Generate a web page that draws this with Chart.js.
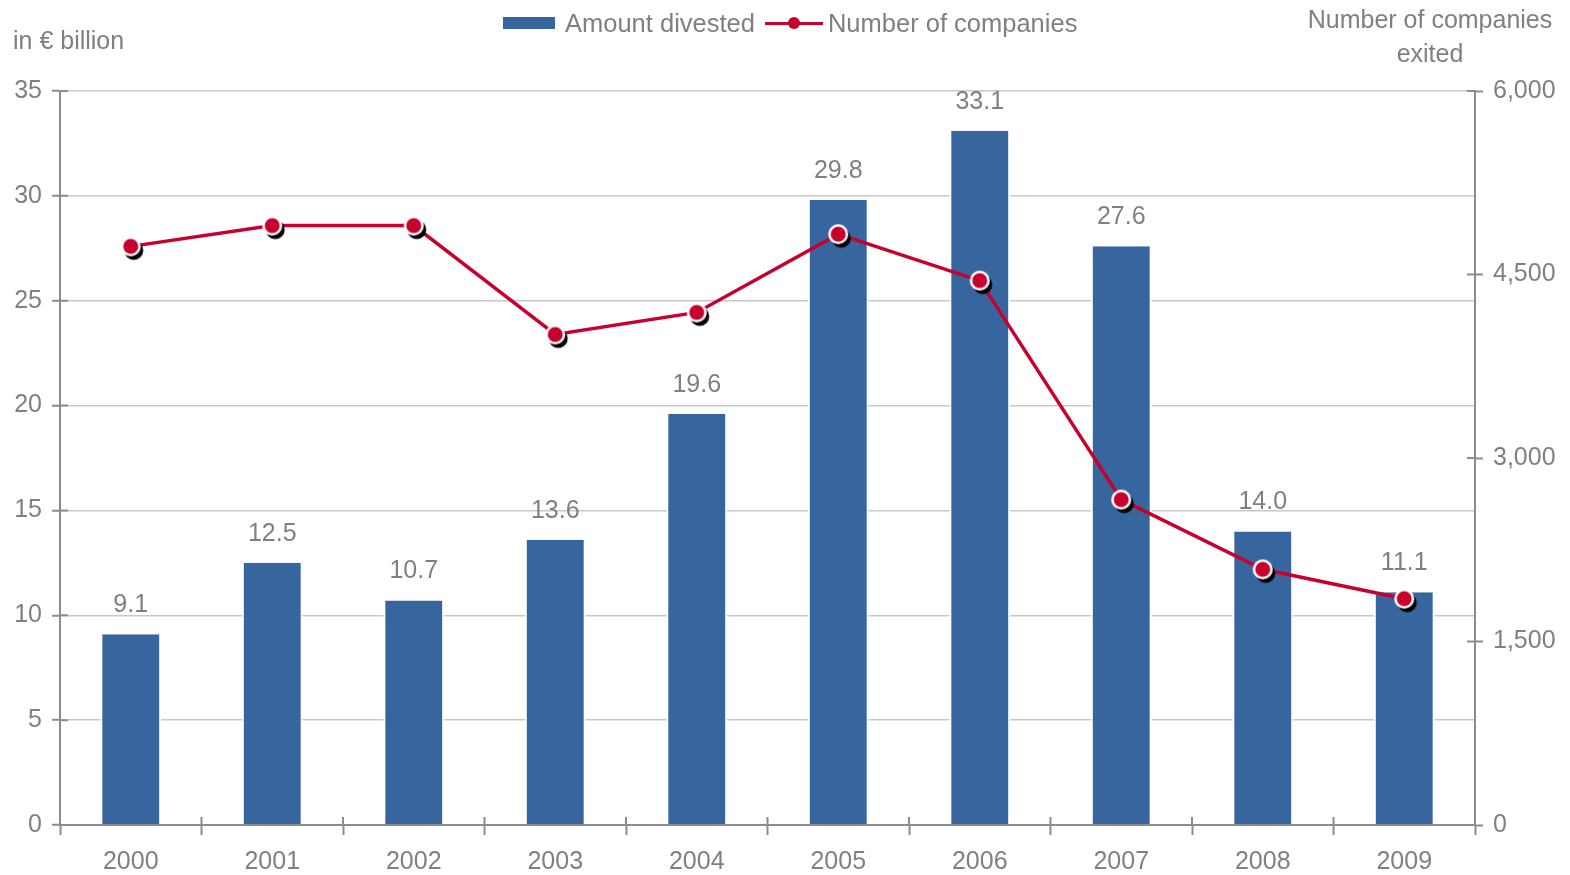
<!DOCTYPE html>
<html>
<head>
<meta charset="utf-8">
<script src="https://cdn.jsdelivr.net/npm/chart.js@4/dist/chart.umd.min.js"></script>
<style>
  html, body { margin: 0; padding: 0; background: #fff; }
  body { width: 1570px; height: 875px; position: relative; overflow: hidden;
         font-family: 'Liberation Sans', Arial, sans-serif; color: #808080; }
  #wrap { position: absolute; left: 0; top: 0; width: 1570px; height: 875px; }
  .txt { position: absolute; font-size: 25px; line-height: 30px; white-space: nowrap; }
  #unitLeft { left: 13px; top: 25px; }
  #unitRight { left: 1280px; top: 2px; width: 300px; text-align: center; line-height: 34px; }
  #legend { position: absolute; left: 503px; top: 8px; height: 30px; display: flex; align-items: center; font-size: 25.5px; }
  .swatchBar { width: 52px; height: 12px; background: #37659E; margin-right: 10px; }
  .swatchLine { position: relative; width: 58px; height: 12px; margin: 0 5px 0 10px; }
  .swatchLine .ln { position: absolute; left: 0; right: 0; top: 5px; height: 3px; background: #C8002D; }
  .swatchLine .dt { position: absolute; left: 23px; top: 0; width: 12px; height: 12px; border-radius: 50%; background: #C8002D; }
</style>
</head>
<body>
<div id="wrap"><canvas id="chart" width="1570" height="875"></canvas></div>
<div class="txt" id="unitLeft">in € billion</div>
<div class="txt" id="unitRight">Number of companies<br>exited</div>
<div id="legend">
  <div class="swatchBar"></div><span>Amount divested</span>
  <div class="swatchLine"><div class="ln"></div><div class="dt"></div></div><span>Number of companies</span>
</div>
<script>
// data
const years = ['2000', '2001', '2002', '2003', '2004', '2005', '2006', '2007', '2008', '2009'];
const amountDivested = [9.1, 12.5, 10.7, 13.6, 19.6, 29.8, 33.1, 27.6, 14.0, 11.1];
const companiesExited = [4730, 4900, 4900, 4010, 4190, 4830, 4450, 2660, 2090, 1850];
const leftTicks = [0, 5, 10, 15, 20, 25, 30, 35];
const rightTicks = [0, 1500, 3000, 4500, 6000];

const BLUE = '#37659E';
const RED = '#C8002D';
const GREY = '#808080';
const AXIS = '#8c8c8c';

Chart.defaults.font.family = "'Liberation Sans', Arial, sans-serif";
Chart.defaults.font.size = 25;
Chart.defaults.color = GREY;

// marker: red dot, white ring, black drop shadow
function makeMarker() {
    const c = document.createElement('canvas');
    c.width = 40; c.height = 40;
    const g = c.getContext('2d');
    g.fillStyle = '#000';
    g.beginPath(); g.arc(23, 24, 9.5, 0, Math.PI * 2); g.fill();
    g.fillStyle = '#fff';
    g.beginPath(); g.arc(20, 20, 10, 0, Math.PI * 2); g.fill();
    g.fillStyle = RED;
    g.beginPath(); g.arc(20, 20, 7.5, 0, Math.PI * 2); g.fill();
    return c;
}

const barLabels = {
    id: 'barLabels',
    afterDatasetsDraw(chart) {
        const ctx = chart.ctx;
        const meta = chart.getDatasetMeta(1);
        ctx.save();
        ctx.fillStyle = GREY;
        ctx.font = "25px 'Liberation Sans', Arial, sans-serif";
        ctx.textAlign = 'center';
        ctx.textBaseline = 'middle';
        meta.data.forEach((bar, i) => {
            ctx.fillText(amountDivested[i].toFixed(1), bar.x, bar.y - 29);
        });
        ctx.restore();
    }
};

// tick marks that cross the axis lines (inner half)
const innerTicks = {
    id: 'innerTicks',
    afterDraw(chart) {
        const ctx = chart.ctx;
        const { x, y, y2 } = chart.scales;
        ctx.save();
        ctx.strokeStyle = AXIS;
        ctx.lineWidth = 2;
        ctx.beginPath();
        leftTicks.forEach(v => {
            const py = y.getPixelForValue(v);
            ctx.moveTo(y.right, py); ctx.lineTo(y.right + 8, py);
        });
        rightTicks.forEach(v => {
            const py = y2.getPixelForValue(v);
            ctx.moveTo(y2.left - 8, py); ctx.lineTo(y2.left, py);
        });
        for (let i = 0; i <= years.length; i++) {
            const px = x.getPixelForValue(i - 0.5);
            ctx.moveTo(px, x.top - 8); ctx.lineTo(px, x.top);
        }
        ctx.stroke();
        ctx.restore();
    }
};

new Chart(document.getElementById('chart'), {
    data: {
        labels: years,
        datasets: [
            {
                type: 'line',
                label: 'Number of companies',
                data: companiesExited,
                yAxisID: 'y2',
                borderColor: RED,
                borderWidth: 3.5,
                pointStyle: makeMarker(),
                pointRadius: 10,
                tension: 0,
                order: 1
            },
            {
                type: 'bar',
                label: 'Amount divested',
                data: amountDivested,
                yAxisID: 'y',
                backgroundColor: BLUE,
                borderColor: '#ffffff',
                borderWidth: { left: 2, right: 2, top: 0, bottom: 0 },
                borderSkipped: false,
                categoryPercentage: 1,
                barPercentage: 0.43,
                order: 2
            }
        ]
    },
    options: {
        responsive: false,
        animation: false,
        events: [],
        layout: { padding: { top: 91, left: 0, right: 0, bottom: 0 } },
        plugins: { legend: { display: false }, tooltip: { enabled: false } },
        scales: {
            x: {
                grid: { offset: true, drawOnChartArea: false, tickLength: 10, tickColor: AXIS, tickWidth: 2 },
                border: { color: AXIS, width: 2 },
                ticks: { padding: 12, color: GREY, maxRotation: 0 },
                afterFit: s => { s.height = 50; }
            },
            y: {
                position: 'left',
                min: 0, max: 35,
                afterBuildTicks: s => { s.ticks = leftTicks.map(v => ({ value: v })); },
                grid: { color: '#c8c8c8', lineWidth: 1.5, tickLength: 8, tickColor: AXIS, tickWidth: 2 },
                border: { color: AXIS, width: 2 },
                ticks: { padding: 10, color: GREY },
                afterFit: s => { s.width = 60; }
            },
            y2: {
                position: 'right',
                min: 0, max: 6000,
                afterBuildTicks: s => { s.ticks = rightTicks.map(v => ({ value: v })); },
                grid: { drawOnChartArea: false, tickLength: 8, tickColor: AXIS, tickWidth: 2 },
                border: { color: AXIS, width: 2 },
                ticks: { padding: 10, color: GREY, callback: v => v.toLocaleString('en-US') },
                afterFit: s => { s.width = 95; }
            }
        }
    },
    plugins: [barLabels, innerTicks]
});
</script>
</body>
</html>
